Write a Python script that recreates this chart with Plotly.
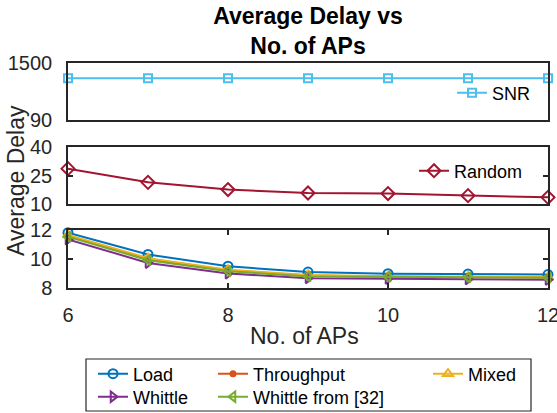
import plotly.graph_objects as go

# ---- data ----
aps = [6, 7, 8, 9, 10, 11, 12]
snr = [1120, 1120, 1120, 1120, 1120, 1120, 1120]
random_ = [28.6, 21.4, 17.6, 15.8, 15.5, 14.4, 13.5]
load = [11.81, 10.31, 9.5, 9.1, 8.99, 8.96, 8.93]
throughput = [11.6, 10.02, 9.22, 8.86, 8.78, 8.75, 8.73]
mixed = [11.65, 10.06, 9.26, 8.9, 8.81, 8.78, 8.76]
whittle = [11.35, 9.73, 9.0, 8.68, 8.63, 8.6, 8.57]
whittle32 = [11.53, 9.92, 9.15, 8.8, 8.77, 8.73, 8.71]

top_ticks = [90, 1500]
mid_ticks = [10, 25, 40]
bot_ticks = [8, 10, 12]
x_ticks = [6, 8, 10, 12]

FONT = "Liberation Sans, Arial, Helvetica, sans-serif"
AX = "#262626"
W, H = 557, 413
L, R = 68, 548


def py(p):
    return (H - p) / H


def px(p):
    return (p - L) / (R - L)


fig = go.Figure()

bottom_series = [
    ("Load", load, "#0072BD", "circle-open", "legend"),
    ("Throughput", throughput, "#D95319", "circle", "legend4"),
    ("Mixed", mixed, "#EDB120", "triangle-up-open", "legend5"),
    ("Whittle", whittle, "#7E2F8E", "triangle-right-open", "legend6"),
    ("Whittle from [32]", whittle32, "#77AC30", "triangle-left-open", "legend7"),
]

fig.add_trace(go.Scatter(x=aps, y=snr, name="SNR", mode="lines+markers",
                         line=dict(color="#4DBEEE", width=2),
                         marker=dict(symbol="square-open", size=8, line=dict(width=2)),
                         xaxis="x", yaxis="y", legend="legend2", cliponaxis=False))
fig.add_trace(go.Scatter(x=aps, y=random_, name="Random", mode="lines+markers",
                         line=dict(color="#A2142F", width=2),
                         marker=dict(symbol="diamond-open", size=10, line=dict(width=2)),
                         xaxis="x2", yaxis="y2", legend="legend3", cliponaxis=False))
for name, vals, col, sym, lg in bottom_series:
    size = 5 if sym == "circle" else 9
    fig.add_trace(go.Scatter(x=aps, y=vals, name=name, mode="lines+markers",
                             line=dict(color=col, width=2),
                             marker=dict(symbol=sym, size=size, line=dict(width=2, color=col)),
                             xaxis="x3", yaxis="y3", legend=lg, cliponaxis=False))

tickfont = dict(family=FONT, size=20, color=AX)
common_x = dict(range=[6, 12], showgrid=False, zeroline=False, linecolor=AX,
                linewidth=1.5, showline=True)
common_y = dict(showgrid=False, zeroline=False, linecolor=AX, linewidth=1.5,
                mirror="ticks", showline=True, ticks="inside", ticklen=5,
                tickcolor=AX, tickwidth=1.5, tickfont=tickfont, ticklabelstandoff=10)

fig.update_layout(
    width=W, height=H,
    margin=dict(l=L, r=W - R, t=0, b=0, autoexpand=False),
    paper_bgcolor="white", plot_bgcolor="white",
    font=dict(family=FONT, color="black"),
    title=dict(text="<b>Average Delay vs<br>No. of APs</b>", x=0.5, xref="paper",
               y=py(24), yref="paper", yanchor="middle", xanchor="center",
               font=dict(family=FONT, size=23, color="black")),
    xaxis=dict(domain=[0, 1], anchor="y", showticklabels=False, ticks="", mirror=True, **common_x),
    xaxis2=dict(domain=[0, 1], anchor="y2", showticklabels=False, ticks="", mirror=True, **common_x),
    xaxis3=dict(domain=[0, 1], anchor="y3", tickvals=x_ticks, ticks="inside", ticklen=5,
                tickcolor=AX, tickwidth=1.5, tickfont=tickfont, ticklabelstandoff=8,
                ticklabeloverflow="allow", mirror="ticks", **common_x),
    yaxis=dict(domain=[py(120), py(63)], anchor="x", range=[90, 1500], tickvals=top_ticks, **common_y),
    yaxis2=dict(domain=[py(204), py(147)], anchor="x2", range=[10, 40], tickvals=mid_ticks, **common_y),
    yaxis3=dict(domain=[py(288), py(230)], anchor="x3", range=[8, 12], tickvals=bot_ticks, **common_y),
    showlegend=True,
)

legfont = dict(family=FONT, size=18, color="black")
leg_common = dict(bgcolor="rgba(0,0,0,0)", borderwidth=0, font=legfont,
                  xanchor="left", yanchor="middle", orientation="v", tracegroupgap=0)
ROW1, ROW2 = 374, 397
fig.update_layout(
    legend=dict(x=px(93), y=py(ROW1), **leg_common),
    legend4=dict(x=px(213), y=py(ROW1), **leg_common),
    legend5=dict(x=px(428), y=py(ROW1), **leg_common),
    legend6=dict(x=px(93), y=py(ROW2), **leg_common),
    legend7=dict(x=px(213), y=py(ROW2), **leg_common),
    legend2=dict(x=px(452), y=py(93), **leg_common),
    legend3=dict(x=px(414), y=py(171), **leg_common),
)

# legend frame
fig.add_shape(type="rect", xref="paper", yref="paper",
              x0=px(86), x1=px(531), y0=py(411), y1=py(359),
              line=dict(color=AX, width=1.2), fillcolor="rgba(0,0,0,0)", layer="below")

# axis titles
fig.add_annotation(text="Average Delay", xref="paper", yref="paper",
                   x=px(16), y=py(181), textangle=-90, showarrow=False,
                   xanchor="center", yanchor="middle",
                   font=dict(family=FONT, size=23, color=AX))
fig.add_annotation(text="No. of APs", xref="paper", yref="paper",
                   x=px(304), y=py(336), showarrow=False,
                   xanchor="center", yanchor="middle",
                   font=dict(family=FONT, size=23, color=AX))

fig.write_html("out.html")
